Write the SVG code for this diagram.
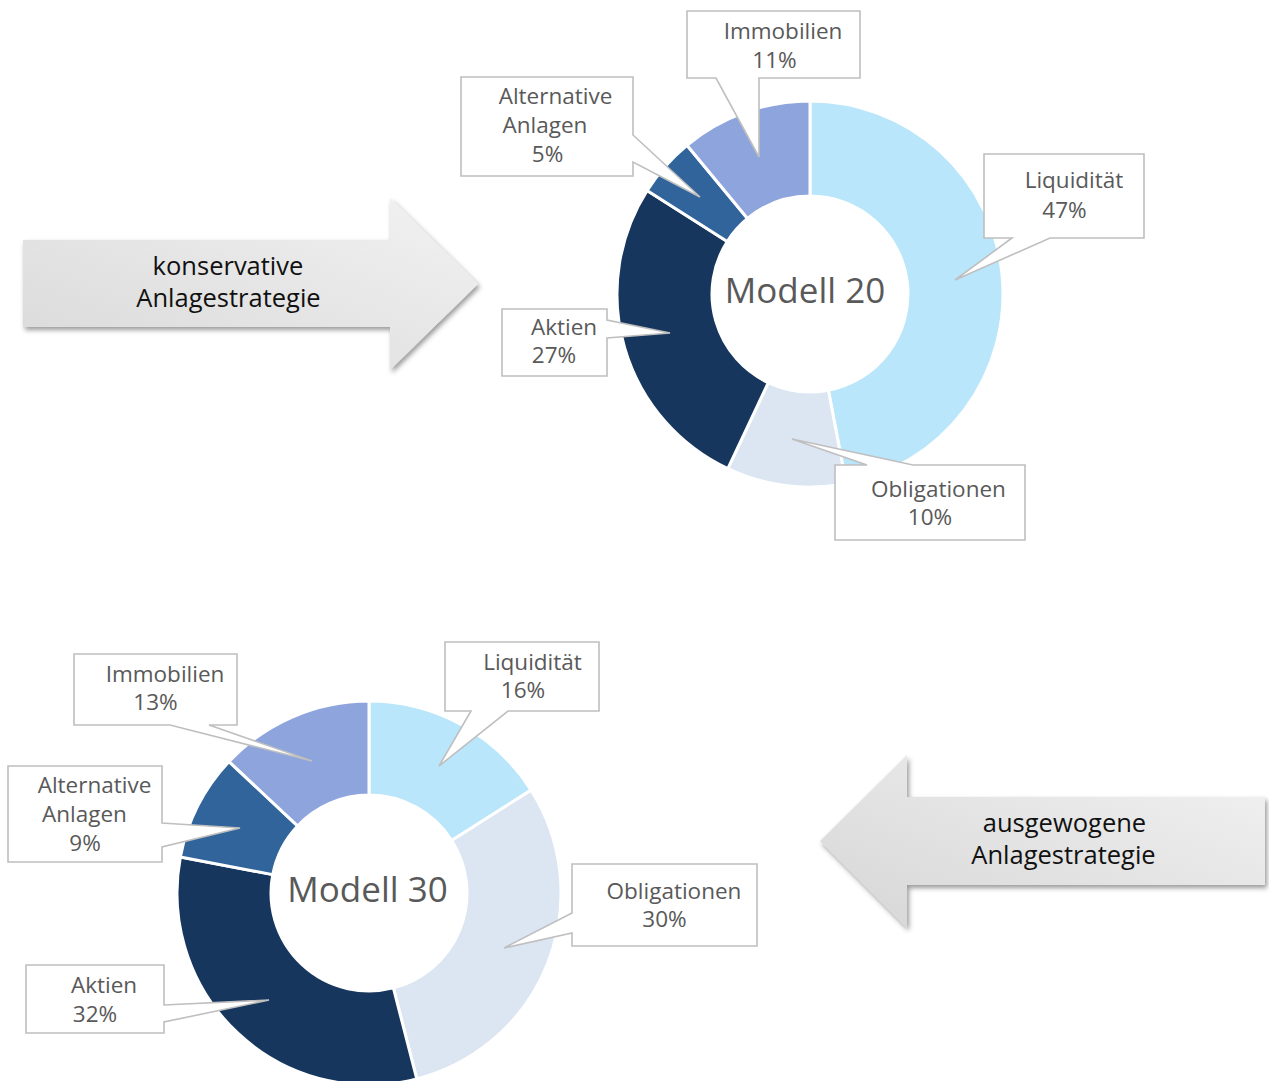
<svg xmlns="http://www.w3.org/2000/svg" width="1269" height="1081" viewBox="0 0 1269 1081">
<style>
.lbl{font-family:"Open Sans","Noto Sans","Liberation Sans",sans-serif;font-size:22.5px;fill:#595959;text-anchor:middle}
.ctr{font-family:"Open Sans","Noto Sans","Liberation Sans",sans-serif;font-size:35px;fill:#595959;text-anchor:middle}
.arr{font-family:"Open Sans","Noto Sans","Liberation Sans",sans-serif;font-size:25.5px;fill:#111;text-anchor:middle}
.co{fill:#fff;stroke:#BFBFBF;stroke-width:1.6;stroke-linejoin:miter}
.sl{stroke:#fff;stroke-width:3;stroke-linejoin:round}
.liq{fill:#B9E6FA}.obl{fill:#DCE6F2}.akt{fill:#17365D}.alt{fill:#31649B}.imm{fill:#8EA4DC}
</style>
<defs>
<filter id="sh" x="-10%" y="-10%" width="125%" height="135%">
<feDropShadow dx="2" dy="3" stdDeviation="2.5" flood-color="#000" flood-opacity="0.4"/>
</filter>
<linearGradient id="g1" x1="0" y1="1" x2="1" y2="0">
<stop offset="0" stop-color="#D9D9D9"/><stop offset="1" stop-color="#F2F2F2"/>
</linearGradient>
<linearGradient id="g2" x1="0" y1="1" x2="1" y2="0">
<stop offset="0" stop-color="#D6D6D6"/><stop offset="1" stop-color="#F2F2F2"/>
</linearGradient>
</defs>
<rect width="1269" height="1081" fill="#fff"/>

<g id="arrow-konservativ">
<polygon points="23,240 390,240 390,198 478,284 390,370 390,327 23,327" fill="url(#g1)" filter="url(#sh)"/>
<text class="arr" x="228" y="275">konservative</text>
<text class="arr" x="228.5" y="307">Anlagestrategie</text>
</g>

<g id="arrow-ausgewogen">
<polygon points="1265,797 907,797 907,755 820,841 907,928 907,885 1265,885" fill="url(#g2)" filter="url(#sh)"/>
<text class="arr" x="1064.5" y="832">ausgewogene</text>
<text class="arr" x="1063.5" y="864">Anlagestrategie</text>
</g>

<g id="chart-modell20">
<g id="m20-slices">
<path class="sl liq" d="M810,101 A193,193 0 0 1 846.16,483.58 L828.36,390.26 A98,98 0 0 0 810,196 Z"/>
<path class="sl obl" d="M846.16,483.58 A193,193 0 0 1 727.82,468.63 L768.27,382.67 A98,98 0 0 0 828.36,390.26 Z"/>
<path class="sl akt" d="M727.82,468.63 A193,193 0 0 1 647.04,190.58 L727.26,241.49 A98,98 0 0 0 768.27,382.67 Z"/>
<path class="sl alt" d="M647.04,190.58 A193,193 0 0 1 686.98,145.29 L747.53,218.49 A98,98 0 0 0 727.26,241.49 Z"/>
<path class="sl imm" d="M686.98,145.29 A193,193 0 0 1 810,101 L810,196 A98,98 0 0 0 747.53,218.49 Z"/>
</g>
<text class="ctr" x="805" y="303">Modell 20</text>
<g id="m20-imm">
<path class="co" d="M687,11 H860 V78 H759 L759,157 L716,78 H687 Z"/>
<text class="lbl" x="783" y="39">Immobilien</text>
<text class="lbl" x="774.5" y="68">11%</text>
</g>
<g id="m20-alt">
<path class="co" d="M461,77 H633 V135 L700,197 L633,162 V176 H461 Z"/>
<text class="lbl" x="555.5" y="104">Alternative</text>
<text class="lbl" x="545" y="133">Anlagen</text>
<text class="lbl" x="547.5" y="162">5%</text>
</g>
<g id="m20-akt">
<path class="co" d="M502,309 H607 V320 L670,333 L607,338 V376 H502 Z"/>
<text class="lbl" x="564" y="335">Aktien</text>
<text class="lbl" x="554" y="363">27%</text>
</g>
<g id="m20-liq">
<path class="co" d="M984,154 H1144 V238 H1050 L955,280 L1012,238 H984 Z"/>
<text class="lbl" x="1074" y="188">Liquidität</text>
<text class="lbl" x="1064.5" y="218">47%</text>
</g>
<g id="m20-obl">
<path class="co" d="M835,465 H867 L792,439 L913,465 H1025 V540 H835 Z"/>
<text class="lbl" x="938.5" y="497">Obligationen</text>
<text class="lbl" x="930" y="525">10%</text>
</g>
</g>

<g id="chart-modell30">
<g id="m30-slices">
<path class="sl liq" d="M369,701 A192,192 0 0 1 531.11,790.12 L451.74,840.49 A98,98 0 0 0 369,795 Z"/>
<path class="sl obl" d="M531.11,790.12 A192,192 0 0 1 416.75,1078.97 L393.37,987.92 A98,98 0 0 0 451.74,840.49 Z"/>
<path class="sl akt" d="M416.75,1078.97 A192,192 0 0 1 180.4,857.02 L272.74,874.64 A98,98 0 0 0 393.37,987.92 Z"/>
<path class="sl alt" d="M180.4,857.02 A192,192 0 0 1 229.04,761.57 L297.56,825.91 A98,98 0 0 0 272.74,874.64 Z"/>
<path class="sl imm" d="M229.04,761.57 A192,192 0 0 1 369,701 L369,795 A98,98 0 0 0 297.56,825.91 Z"/>
</g>
<text class="ctr" x="367.5" y="902">Modell 30</text>
<g id="m30-imm">
<path class="co" d="M74,654 H237 V725 H209 L312,761 L170,725 H74 Z"/>
<text class="lbl" x="165" y="682">Immobilien</text>
<text class="lbl" x="155.5" y="710">13%</text>
</g>
<g id="m30-alt">
<path class="co" d="M8,766 H162 V823 L240,828 L162,847 V862 H8 Z"/>
<text class="lbl" x="94.5" y="793">Alternative</text>
<text class="lbl" x="84.5" y="822">Anlagen</text>
<text class="lbl" x="85" y="851">9%</text>
</g>
<g id="m30-akt">
<path class="co" d="M26,965 H164 V1005 L269,1000 L164,1022 V1033 H26 Z"/>
<text class="lbl" x="104" y="993">Aktien</text>
<text class="lbl" x="95" y="1022">32%</text>
</g>
<g id="m30-liq">
<path class="co" d="M445,642 H599 V711 H508 L439,766 L471,711 H445 Z"/>
<text class="lbl" x="532.5" y="670">Liquidität</text>
<text class="lbl" x="523" y="698">16%</text>
</g>
<g id="m30-obl">
<path class="co" d="M572,864 H757 V946 H572 V933 L504,948 L572,913 Z"/>
<text class="lbl" x="674" y="899">Obligationen</text>
<text class="lbl" x="664.5" y="927">30%</text>
</g>
</g>
<g id="connectors"/>
</svg>
